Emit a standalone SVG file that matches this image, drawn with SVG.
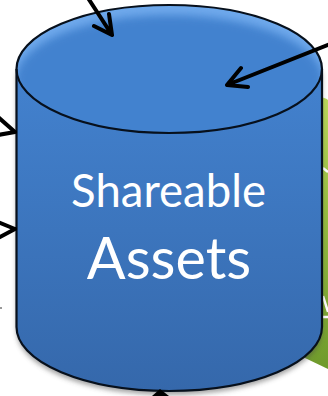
<svg xmlns="http://www.w3.org/2000/svg" width="328" height="396" viewBox="0 0 328 396">
<defs>
<linearGradient id="body" x1="0" y1="0" x2="0" y2="1"><stop offset="0" stop-color="#4382cf"/><stop offset="1" stop-color="#3568ab"/></linearGradient>
<linearGradient id="green" x1="0" y1="0" x2="0" y2="1"><stop offset="0" stop-color="#bcd95c"/><stop offset="0.4" stop-color="#99bf42"/><stop offset="1" stop-color="#6f9a2c"/></linearGradient>
<filter id="sh" x="-5%" y="-5%" width="110%" height="110%"><feGaussianBlur stdDeviation="2.500"/></filter>
<filter id="soft" x="-10%" y="-20%" width="120%" height="140%"><feGaussianBlur stdDeviation="4"/></filter>
<clipPath id="topclip"><ellipse cx="169.250" cy="69" rx="152.750" ry="64"/></clipPath>
</defs>
<style>
.ln{fill:none;stroke:#000;stroke-linecap:round;stroke-linejoin:round}
.ar{stroke-width:4}
.rim{stroke:#07101c;stroke-width:2.200;fill:none}
.t{fill:#fff;font-family:Lato,"Open Sans","Liberation Sans",sans-serif;text-anchor:middle}
</style>
<path d="M320 97Q326 98 328 100V369L305 358Z" fill="url(#green)"/>
<path d="M323 168L328 172M323 296L328 312M323 317H328" stroke="#fff" stroke-width="2.500" fill="none"/>
<g id="shareable-assets">
<path d="M16.500 69V327A152.750 64 0 0 0 322 327V69Z" fill="#444" opacity=".5" filter="url(#sh)" transform="translate(0 4)"/>
<path d="M16.500 69V327A152.750 64 0 0 0 322 327V69Z" fill="url(#body)"/>
<g clip-path="url(#topclip)">
<ellipse cx="169.250" cy="69" rx="152.750" ry="64" fill="#6fa9ec"/>
<ellipse cx="169.250" cy="80" rx="154" ry="65" fill="#4282cf" filter="url(#soft)"/>
</g>
<path class="rim" d="M16.500 69A152.750 64 0 0 1 322 69V327A152.750 64 0 0 1 16.500 327Z"/>
<path class="rim" d="M16.500 69A152.750 64 0 0 0 322 69"/>
<text class="t" x="168.500" y="207" font-size="45.500">Shareable</text>
<text class="t" x="169" y="279" font-size="57.500">Assets</text>
</g>
<g id="connectors">
<path class="ln ar" d="M88 -2L112 35M94 26L112 35L109 14"/>
<path class="ln ar" d="M330 44L227 85M241 68L227 85L248 87"/>
<path class="ln ar" d="M-2 117L15 132M-2 135L15 132"/>
<path class="ln ar" d="M-2 222L15 229M-2 238L15 229"/>
<path d="M152 396L160 389L169 396Z" fill="#000"/>
<path d="M0 308H2" stroke="#333" stroke-width="1"/>
</g>
</svg>
